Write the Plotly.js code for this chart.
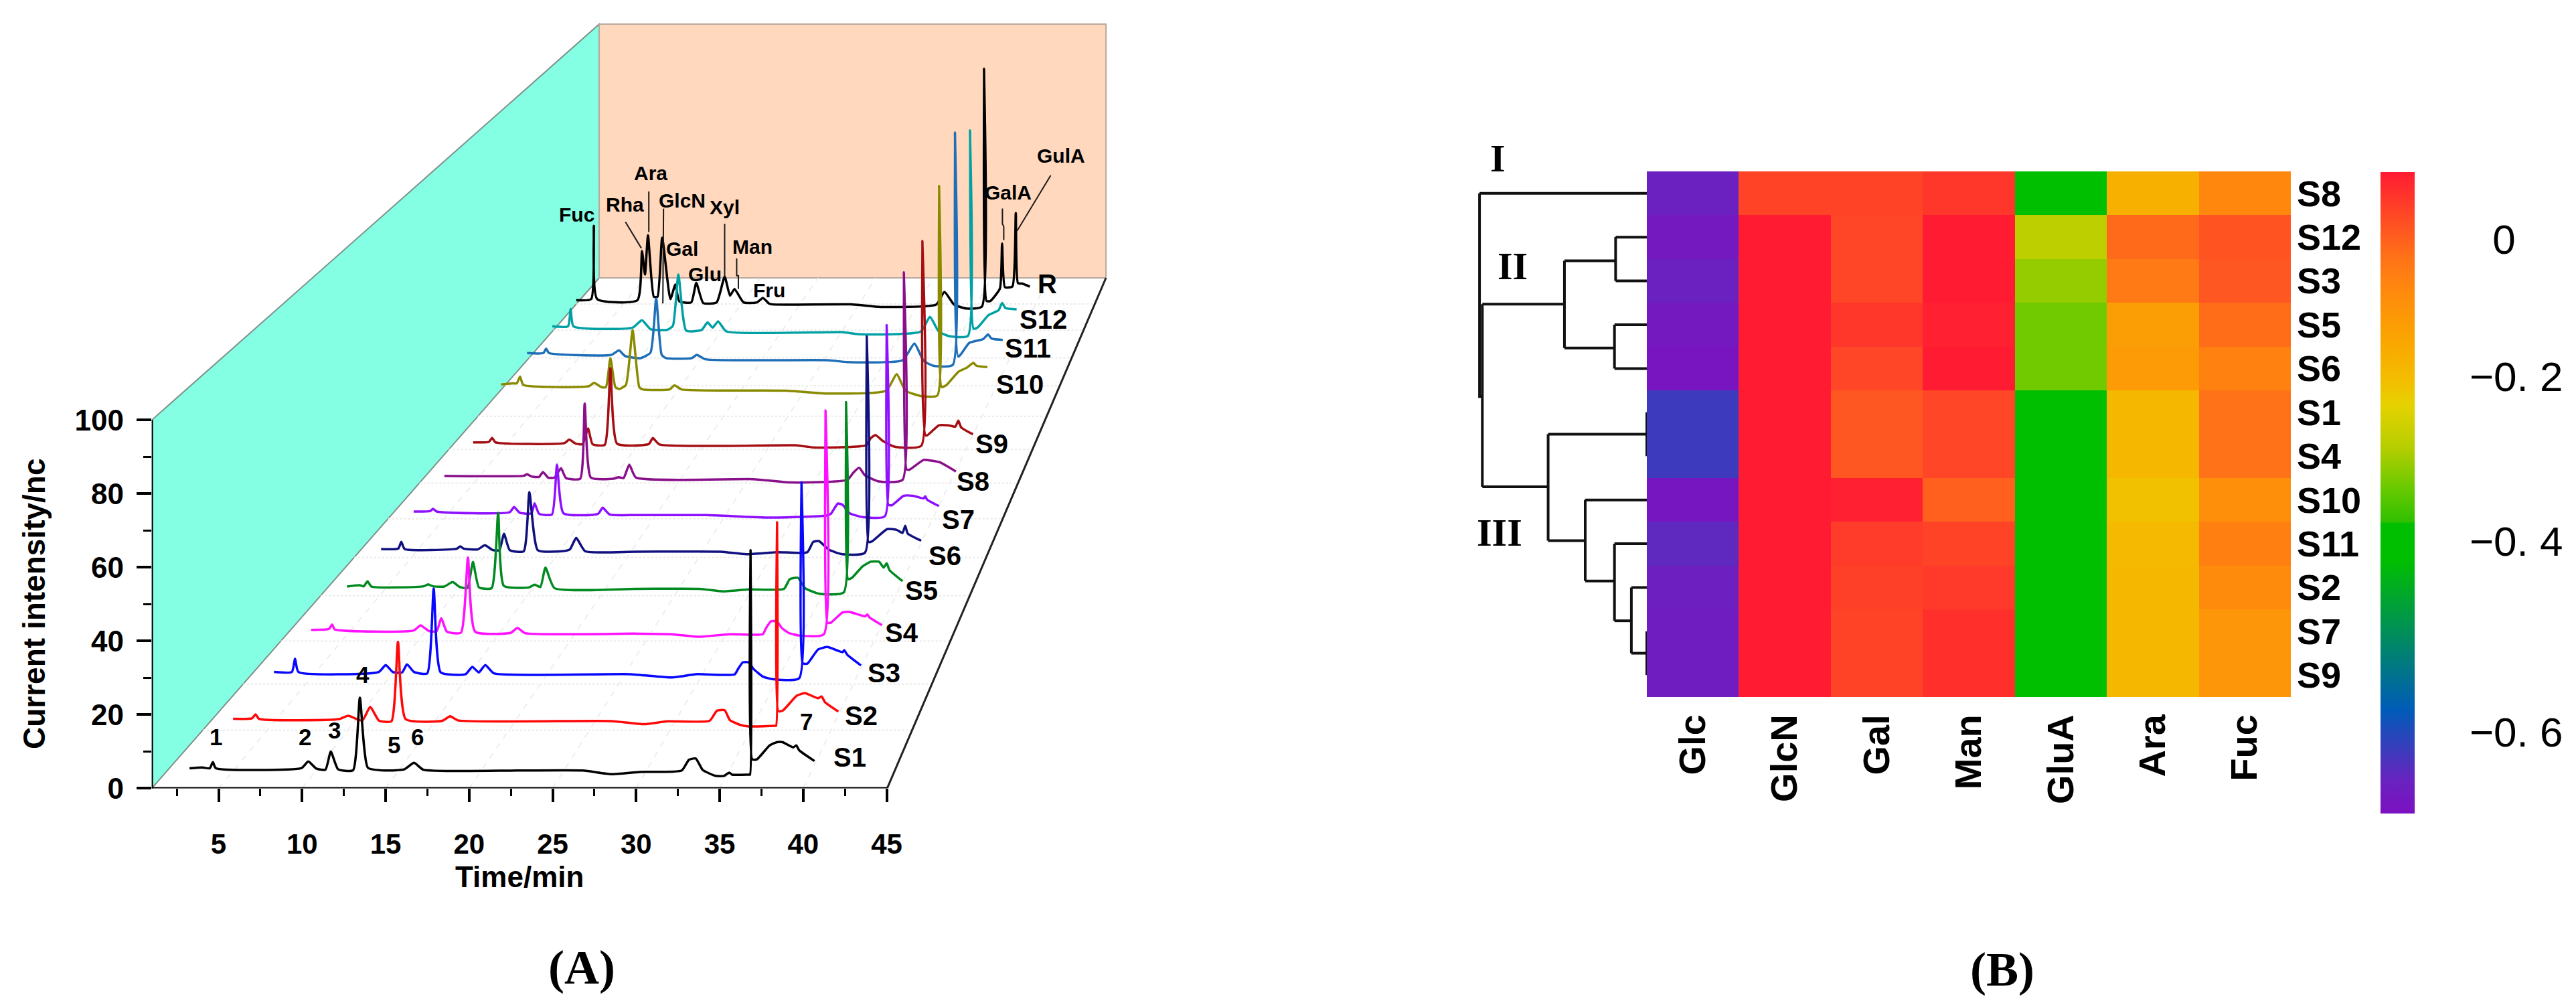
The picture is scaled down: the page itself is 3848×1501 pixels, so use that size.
<!DOCTYPE html>
<html><head><meta charset="utf-8">
<script src="https://cdn.plot.ly/plotly-3.0.1.min.js"></script>
<style>html,body{margin:0;padding:0;background:#fff}</style></head>
<body><div id="chart" style="width:3848px;height:1501px"></div>
<script>
// ---------- Panel A: offset chromatograms, read in the chart's axis units ----------
const s1T=[3.26,4.04,4.47,4.66,4.83,9.96,10.37,10.85,11.4,11.72,12.15,13.05,13.46,13.94,15.0,16.14,16.7,17.26,22.9,26.8,28.5,30.2,32.73,33.16,33.57,33.99,34.76,35.26,35.57,35.75,36.74,36.82,36.85,36.95,37.23,38.0,38.43,38.77,39.41,39.59,39.76,40.68];
const s1I=[5.43,5.66,5.43,7.1,5.5,5.5,7.3,5.36,5.06,10.0,5.2,4.9,24.6,5.6,4.83,5.2,6.94,5.06,4.83,4.83,3.85,4.45,4.84,7.76,8.11,4.98,3.38,3.38,4.27,3.71,3.71,3.71,64.67,7.87,7.87,11.68,12.53,12.53,11.13,11.68,10.35,7.42];
const s2T=[5.87,7.0,7.22,7.42,12.2,12.76,13.6,14.08,14.6,15.35,15.74,16.2,18.4,18.86,19.37,28.5,30.48,31.88,34.4,34.84,35.3,35.61,36.18,36.74,38.28,38.38,38.44,38.51,38.78,39.62,40.11,40.89,41.1,41.31,42.11];
const s2I=[18.87,19.02,20.07,18.87,18.79,19.7,18.4,22.1,18.4,18.2,39.77,18.8,18.34,19.55,18.42,18.26,17.43,18.19,18.34,21.1,21.2,18.54,17.3,16.8,17.0,17.0,72.26,20.97,21.11,25.15,25.85,24.46,24.94,23.4,20.84];
const s3T=[8.32,9.39,9.58,9.78,14.59,15.01,15.43,15.99,16.28,16.7,17.49,17.88,18.3,19.79,20.19,20.58,20.97,21.48,29.63,32.17,33.57,35.89,36.11,36.39,36.74,37.02,37.58,38.14,39.76,39.9,39.97,40.25,40.89,41.45,42.36,42.46,42.64,43.46];
const s3I=[31.6,31.6,35.2,31.6,31.6,33.5,31.6,31.47,33.66,31.6,31.2,54.26,31.47,31.0,33.0,31.47,33.5,31.25,31.0,30.1,31.0,30.93,32.46,34.2,34.2,32.46,30.37,29.67,29.88,83.1,33.99,33.85,37.68,38.37,36.98,37.54,36.28,33.36];
const s4T=[10.54,11.61,11.8,11.95,16.68,17.09,17.6,18.06,18.33,18.67,19.51,19.93,20.36,22.5,22.89,23.35,29.99,32.1,33.72,35.61,37.58,37.79,38.07,38.43,38.71,39.13,39.76,41.24,41.34,41.45,41.66,42.36,42.78,43.7,43.84,43.98,44.72];
const s4I=[43.04,43.28,44.5,43.16,42.86,44.25,42.68,42.68,46.19,42.55,42.25,62.68,42.55,42.25,43.59,42.13,42.0,41.85,41.15,41.85,41.85,43.59,45.33,45.33,43.59,42.2,41.5,41.85,102.63,44.98,44.98,47.77,47.9,46.72,47.21,46.38,44.29];
const s5T=[12.69,13.45,13.69,13.92,14.15,17.29,17.55,17.83,18.52,19.01,19.44,19.9,20.23,20.59,21.35,21.74,22.08,23.58,23.92,24.27,24.57,25.11,29.99,33.79,35.19,36.74,38.85,39.2,39.69,40.11,40.96,42.43,42.57,42.69,42.92,43.56,44.05,44.54,44.82,45.0,45.17,45.95];
const s5I=[54.8,55.16,54.86,56.19,54.8,54.86,55.4,54.86,54.8,56.01,54.67,54.37,61.46,54.55,54.37,74.8,54.98,54.55,55.28,54.67,59.95,54.37,54.17,54.17,53.47,54.03,54.17,56.81,57.16,54.38,52.85,53.2,104.9,56.81,57.16,60.29,61.54,61.54,59.95,61.13,59.25,56.26];
const s6T=[14.73,15.76,15.94,16.14,19.28,19.47,19.67,20.51,20.94,21.43,21.81,22.09,22.43,23.27,23.61,24.11,25.57,26.03,26.41,26.95,29.99,35.05,36.6,38.43,40.25,40.6,40.96,41.52,42.36,43.7,43.81,43.91,44.12,45.03,45.6,45.95,46.11,46.26,47.07];
const s6I=[64.98,65.1,66.92,64.98,65.1,65.71,65.1,64.86,66.0,64.67,64.67,69.1,64.67,64.37,80.43,64.67,64.37,64.86,68.0,64.37,64.26,64.26,63.56,64.12,64.12,66.9,67.11,64.82,63.56,63.98,122.76,66.9,67.04,70.38,70.17,69.34,71.29,69.2,67.25];
const s7T=[16.68,17.67,17.84,18.06,22.43,22.69,23.04,23.73,23.92,24.19,24.96,25.26,25.65,27.72,28.0,28.41,29.99,34.2,38.0,41.38,41.66,42.08,42.36,42.78,43.49,44.89,45.0,45.1,45.31,46.02,46.58,47.21,47.31,47.42,48.13];
const s7I=[75.16,75.28,75.89,75.16,74.98,76.37,74.8,74.67,77.4,74.55,74.37,87.89,74.67,74.55,76.19,74.37,74.2,74.2,73.5,74.07,74.56,77.34,76.99,74.7,73.72,73.86,125.77,76.99,76.85,79.43,79.43,78.73,79.29,78.39,76.65];
const s8T=[18.52,23.27,23.47,23.73,24.19,24.42,24.73,25.11,25.5,25.8,26.65,26.92,27.29,28.64,28.95,29.25,29.59,29.99,37.02,39.27,42.64,43.0,43.35,43.7,44.47,45.95,46.03,46.19,46.37,47.21,47.7,48.2,49.14];
const s8I=[84.86,84.86,85.28,84.67,84.55,85.89,84.37,84.37,86.92,84.25,84.07,104.49,84.37,84.07,84.49,84.25,87.89,84.37,83.95,83.05,83.74,85.69,87.08,85.0,83.4,83.74,140.09,86.6,86.53,89.17,88.96,88.48,86.04];
const s9T=[20.24,21.18,21.38,21.58,25.72,25.99,26.39,26.79,27.12,27.39,28.12,28.46,28.86,30.76,31.0,31.4,39.55,40.6,43.77,44.05,44.33,44.75,45.45,47.07,47.14,47.35,48.13,48.69,49.11,49.29,49.46,50.17];
const s9I=[93.95,94.07,95.16,93.95,93.77,94.68,93.59,93.46,97.71,93.46,93.28,114.07,93.59,93.49,95.09,93.35,93.14,92.58,93.14,95.09,95.92,94.39,92.79,93.0,148.6,95.78,98.57,98.57,98.22,99.82,98.01,96.13];
const s10T=[21.91,22.65,22.85,23.05,23.25,27.19,27.48,27.92,28.19,28.46,28.76,28.99,29.39,29.79,30.19,30.4,32.0,32.29,32.73,38.98,41.48,44.97,45.6,46.13,47.13,48.04,48.14,48.29,48.6,49.29,49.79,50.2,50.37,51.03];
const s10I=[109.65,109.95,109.95,111.77,109.53,109.22,110.13,108.92,108.92,116.8,108.92,108.43,109.53,124.37,108.92,108.31,108.31,109.41,108.31,107.97,107.2,107.97,112.49,107.97,106.46,106.68,163.58,108.95,109.6,113.09,114.22,115.5,114.75,114.37];
const s11T=[23.47,24.45,24.61,24.78,28.52,28.97,29.33,30.26,30.86,31.2,31.53,31.8,33.33,33.63,34.14,41.48,42.64,45.96,46.66,47.21,47.79,48.96,49.09,49.29,49.95,50.78,51.07,51.28,51.95];
const s11I=[118.19,118.19,119.4,118.19,117.71,118.92,117.4,116.8,118.31,132.98,117.71,116.8,116.8,117.71,116.5,116.25,115.73,116.25,120.78,116.1,114.75,114.98,178.05,117.23,120.96,121.98,123.26,122.13,121.76];
const s12T=[24.98,25.92,26.08,26.25,29.79,30.35,30.86,31.86,32.2,32.53,33.0,33.93,34.27,34.58,34.91,35.4,42.31,43.47,47.04,47.59,48.12,48.79,49.87,49.99,50.2,50.45,51.11,51.7,51.91,52.11,52.78];
const s12I=[125.46,125.46,130.13,125.46,125.1,127.1,124.68,124.5,125.58,139.53,124.25,124.5,126.5,125.1,126.8,124.07,123.87,123.27,124.02,128.01,124.02,122.73,122.89,178.65,124.77,125.15,128.54,129.82,131.78,130.42,130.05];
const rT=[26.41,27.31,27.47,27.66,30.08,30.35,30.53,30.71,31.06,31.28,31.56,32.05,32.35,32.58,33.3,33.6,34.02,34.82,35.3,35.62,35.89,36.43,37.24,37.59,37.95,38.15,42.97,44.63,47.96,48.46,49.04,49.79,50.7,50.83,50.98,51.2,51.78,51.91,52.08,52.53,52.73,52.86,53.11,53.57];
const rI=[132.55,132.86,152.74,132.86,132.55,145.89,139.52,150.13,133.46,133.46,149.52,132.86,136.8,132.25,131.95,137.22,131.77,131.95,138.92,133.77,135.58,131.95,131.95,133.16,131.65,131.4,131.4,130.72,131.33,134.79,131.33,130.27,130.8,195.38,132.31,132.31,135.7,147.91,136.07,136.3,156.2,137.2,137.05,136.23];

const seriesNames=['R','S12','S11','S10','S9','S8','S7','S6','S5','S4','S3','S2','S1'];
const seriesT=[rT,s12T,s11T,s10T,s9T,s8T,s7T,s6T,s5T,s4T,s3T,s2T,s1T];
const seriesI=[rI,s12I,s11I,s10I,s9I,s8I,s7I,s6I,s5I,s4I,s3I,s2I,s1I];
const seriesColors=['#000000','#00a0a4','#1f6fb8','#8a8a00','#a50f14','#8a0f8a','#8f10ff','#10107f','#008a20','#ff10ff','#0808ff','#ff0808','#000000'];

const leaderT=[29.36,30.31,null,30.76,30.76,null,31.64,31.6,null,35.3,35.3,null,36.02,36.02,36.12,36.12,null,51.93,51.93,52.01,52.01,null,54.82,52.81];
const leaderI=[153.77,146.67,null,162.07,151.04,null,157.4,131.64,null,153.28,138.92,null,143.89,139.2,139.2,135.6,null,157.4,153.2,152.65,148.9,null,166.44,151.37];

const sugarNames=['Fuc','Rha','Ara','GlcN','Xyl','Gal','Man','Glu','Fru','GalA','GulA'];
const sugarT=[26.46,29.31,30.88,32.76,35.32,32.76,36.97,34.1,37.95,52.28,55.44];
const sugarI=[155.77,158.43,167.1,159.52,157.7,146.5,147.1,139.65,135.3,161.7,171.87];
const curveNames=['R','S12','S11','S10','S9','S8','S7','S6','S5','S4','S3','S2','S1'];
const curveT=[54.6,54.36,53.44,52.99,51.3,50.19,49.28,48.48,47.07,45.92,44.82,43.46,42.78];
const curveI=[137.05,127.4,119.5,109.7,93.56,83.4,72.96,63.21,53.68,42.2,31.41,19.79,8.45];
const peakNames=['1','2','3','4','5','6','7'];
const peakT=[4.83,10.17,11.95,13.63,15.49,16.92,40.18];
const peakI=[14.04,14.04,15.77,30.87,11.85,14.04,18.19];

const xMajor=[5,10,15,20,25,30,35,40,45];
const xMinor=[2.5,7.5,12.5,17.5,22.5,27.5,32.5,37.5,42.5];
const yMajor=[0,20,40,60,80,100];
const yMinor=[10,30,50,70,90];

// ---------- Panel B: heat map and dendrogram ----------
const sampleLabels=['S8','S12','S3','S5','S6','S1','S4','S10','S11','S2','S7','S9'];
const sugarColumns=['Glc','GlcN','Gal','Man','GluA','Ara','Fuc'];
const rowS8=[-0.663,0.035,0.035,0.05,-0.37,-0.144,-0.058];
const rowS12=[-0.682,0.081,0.031,0.081,-0.245,-0.012,0.015];
const rowS3=[-0.663,0.081,0.031,0.081,-0.275,-0.035,0.011];
const rowS5=[-0.682,0.081,0.05,0.077,-0.298,-0.105,-0.016];
const rowS6=[-0.69,0.081,0.031,0.081,-0.298,-0.101,-0.05];
const rowS1=[-0.624,0.081,0.011,0.031,-0.384,-0.159,-0.023];
const rowS4=[-0.624,0.081,0.011,0.031,-0.384,-0.159,-0.023];
const rowS10=[-0.686,0.081,0.077,0,-0.37,-0.178,-0.074];
const rowS11=[-0.651,0.081,0.043,0.035,-0.37,-0.163,-0.047];
const rowS2=[-0.667,0.081,0.039,0.046,-0.37,-0.159,-0.066];
const rowS7=[-0.671,0.081,0.035,0.058,-0.37,-0.159,-0.09];
const rowS9=[-0.671,0.081,0.035,0.058,-0.37,-0.159,-0.09];
const heatRows=[rowS8,rowS12,rowS3,rowS5,rowS6,rowS1,rowS4,rowS10,rowS11,rowS2,rowS7,rowS9];
const barTickVals=[0,-0.167,-0.368,-0.6];
const barTickText=['\u00a0\u00a00','\u22120. 2','\u22120. 4','\u22120. 6'];

const treeD=[5.95,0,null,5.95,5.95,5.85,null,5.85,5.85,null,5.85,2.93,null,2.93,2.93,null,2.93,1.11,null,1.11,0,null,1.11,1.11,null,1.11,0,null,2.93,1.15,null,1.15,0,null,1.15,1.15,null,1.15,0,null,5.85,3.51,null,3.51,3.51,null,3.51,0,null,0,0,null,3.51,2.19,null,2.19,2.19,null,2.19,0,null,2.19,1.15,null,1.15,1.15,null,1.15,0,null,1.15,0.55,null,0.55,0.55,null,0.55,0,null,0.55,0,null,0,0];
const treeR=[0,0,null,0,4.64,4.64,null,2.53,6.7,null,2.53,2.53,null,1.54,3.53,null,1.54,1.54,null,1,1,null,1,2,null,2,2,null,3.53,3.53,null,3,3,null,3,4,null,4,4,null,6.7,6.7,null,5.5,7.93,null,5.5,5.5,null,5,6,null,7.93,7.93,null,7,8.85,null,7,7,null,8.85,8.85,null,8,9.76,null,8,8,null,9.76,9.76,null,9,10.5,null,9,9,null,10.5,10.5,null,10,11];
const clusterNames=['II','III'];
const clusterD=[4.78,5.23];
const clusterR=[1.67,7.74];

// ---------- Layout constants ----------
const W=3848,H=1501;
const SANS='"Liberation Sans",Arial,sans-serif';
const NARROW='"Liberation Sans Narrow","Liberation Sans",Arial,sans-serif';
const SERIF='"Liberation Serif","Times New Roman",serif';
const fx=p=>p/W, fy=p=>1-p/H;

const wallX=[1,1,27.79,27.79];
const wallY=[0,100,207.5,138.6];
const backX=[27.79,58.13];
const backY=[138.6,207.5];
const floorLevels=[15.8,28.3,40,52.3,62.7,73.2,82.9,92,101,109.3,116.9,124.4,131.5];
const leftEdge=y=>1+y*26.79/138.6, rightEdge=y=>45.03+y*13.1/138.6;

const shapes=[];
const ln=(x0,y0,x1,y1,color,width,dash)=>({type:'line',xref:'x',yref:'y',x0,y0,x1,y1,layer:'below',line:{color,width,dash:dash||'solid'}});
shapes.push({type:'path',xref:'x',yref:'y',layer:'below',fillcolor:'#84ffe3',line:{color:'#7f8f8a',width:2},
  path:'M'+wallX.map((v,i)=>v+','+wallY[i]).join(' L')+' Z'});
shapes.push({type:'rect',xref:'x',yref:'y',layer:'below',x0:backX[0],x1:backX[1],y0:backY[0],y1:backY[1],fillcolor:'#ffd8bd',line:{color:'#b9a89c',width:2}});
floorLevels.forEach(y=>shapes.push(ln(leftEdge(y),y,rightEdge(y),y,'#e9e9e9',2,'dot')));
xMajor.forEach(x=>{const t=(x-1)/44;shapes.push(ln(x,0,27.79+t*30.34,138.6,'#eeeeee',2,'dash'));});
shapes.push(ln(45.03,0,58.13,138.6,'#222222',3));
shapes.push(ln(1,0,45.03,0,'#000000',4));
shapes.push(ln(1,0,1,100,'#000000',4));

// ---------- Traces ----------
const traces=[];
seriesNames.forEach((n,i)=>traces.push({type:'scatter',mode:'lines',name:n,x:seriesT[i],y:seriesI[i],xaxis:'x',yaxis:'y',
  line:{color:seriesColors[i],width:3.5,shape:'spline',smoothing:0.5},showlegend:false,hoverinfo:'skip'}));
traces.push({type:'scatter',mode:'lines',x:leaderT,y:leaderI,xaxis:'x',yaxis:'y',line:{color:'#1a1a1a',width:2},showlegend:false,hoverinfo:'skip'});
traces.push({type:'heatmap',x:sugarColumns.map((_,i)=>i),y:sampleLabels.map((_,i)=>i),z:heatRows,xaxis:'x2',yaxis:'y2',
  zmin:-0.6995,zmax:0.0815,
  colorscale:[[0,'#7c10c0'],[0.05,'#6a22c0'],[0.162,'#005cb8'],[0.395,'#00be00'],[0.452,'#00be00'],[0.455,'#30c000'],[0.51,'#6cca00'],[0.57,'#b5ce00'],[0.637,'#e6d200'],[0.67,'#f2c000'],[0.73,'#f9a800'],[0.81,'#ff8c0c'],[0.87,'#ff7018'],[0.93,'#ff4a25'],[1,'#ff1c32']],
  colorbar:{x:fx(3556),xanchor:'left',y:fy(257),yanchor:'top',len:958,lenmode:'pixels',thickness:51,thicknessmode:'pixels',
    outlinewidth:0,tickmode:'array',tickvals:barTickVals,ticktext:barTickText,ticks:'outside',ticklen:70,tickcolor:'rgba(0,0,0,0)',
    tickfont:{family:NARROW,size:62,color:'#000'},xpad:0,ypad:0,borderwidth:0}});
traces.push({type:'scatter',mode:'lines',x:treeD,y:treeR,xaxis:'x3',yaxis:'y2',line:{color:'#111',width:4},showlegend:false,hoverinfo:'skip'});

// ---------- Annotations ----------
const annotations=[];
const note=(text,x,y,xref,yref,font,extra)=>annotations.push(Object.assign({text,x,y,xref,yref,showarrow:false,xanchor:'center',yanchor:'middle',font},extra||{}));
sugarNames.forEach((n,i)=>note(n,sugarT[i],sugarI[i],'x','y',{family:SANS,size:30,color:'#000',weight:700}));
curveNames.forEach((n,i)=>note(n,curveT[i],curveI[i],'x','y',{family:SANS,size:40,color:'#000',weight:700}));
peakNames.forEach((n,i)=>note(n,peakT[i],peakI[i],'x','y',{family:SANS,size:35,color:'#000',weight:700}));
clusterNames.forEach((n,i)=>note(n,clusterD[i],clusterR[i],'x3','y2',{family:SERIF,size:58,color:'#000',weight:700}));
note('I',fx(2237),fy(236),'paper','paper',{family:SERIF,size:58,color:'#000',weight:700});
note('(A)',fx(869),fy(1445),'paper','paper',{family:SERIF,size:72,color:'#000',weight:700});
note('(B)',fx(2991),fy(1448),'paper','paper',{family:SERIF,size:72,color:'#000',weight:700});
note('Time/min',fx(776),fy(1309),'paper','paper',{family:SANS,size:44,color:'#000',weight:700});
note('Current intensity/nc',fx(51),fy(902),'paper','paper',{family:SANS,size:46,color:'#000',weight:700},{textangle:-90});

const layout={width:W,height:H,margin:{l:0,r:0,t:0,b:0},paper_bgcolor:'#fff',plot_bgcolor:'rgba(0,0,0,0)',showlegend:false,
  font:{family:SANS,color:'#000'},shapes,annotations,
  xaxis:{domain:[fx(226.7),fx(1700)],range:[1,60.05],showgrid:false,zeroline:false,showline:false,
    tickmode:'array',tickvals:xMajor,ticktext:xMajor.map(String),ticks:'outside',ticklen:20,tickwidth:4,tickcolor:'#000',
    tickfont:{family:SANS,size:42,color:'#000',weight:700},ticklabelstandoff:26,
    minor:{tickmode:'array',tickvals:xMinor,ticks:'outside',ticklen:11,tickwidth:3,tickcolor:'#000',showgrid:false}},
  yaxis:{domain:[fy(1177.4),fy(30)],range:[0,208.6],showgrid:false,zeroline:false,showline:false,
    tickmode:'array',tickvals:yMajor,ticktext:yMajor.map(String),ticks:'outside',ticklen:22,tickwidth:4,tickcolor:'#000',
    tickfont:{family:SANS,size:44,color:'#000',weight:700},ticklabelstandoff:10,
    minor:{tickmode:'array',tickvals:yMinor,ticks:'outside',ticklen:12,tickwidth:3,tickcolor:'#000',showgrid:false}},
  xaxis2:{domain:[fx(2460),fx(3422)],range:[-0.5,6.5],anchor:'y2',side:'bottom',showgrid:false,zeroline:false,showline:false,
    tickmode:'array',tickvals:sugarColumns.map((_,i)=>i),ticktext:sugarColumns,ticks:'',tickangle:-90,
    tickfont:{family:SANS,size:56,color:'#000',weight:700},ticklabelstandoff:14},
  yaxis2:{domain:[fy(1041),fy(256)],range:[11.5,-0.5],anchor:'x2',side:'right',showgrid:false,zeroline:false,showline:false,
    tickmode:'array',tickvals:sampleLabels.map((_,i)=>i),ticktext:sampleLabels,ticks:'',
    tickfont:{family:NARROW,size:54,color:'#000',weight:700},ticklabelstandoff:8},
  xaxis3:{domain:[fx(2040),fx(2460)],range:[10,0],anchor:'y2',visible:false}
};

Plotly.newPlot('chart',traces,layout,{staticPlot:true,displayModeBar:false});
</script></body></html>
